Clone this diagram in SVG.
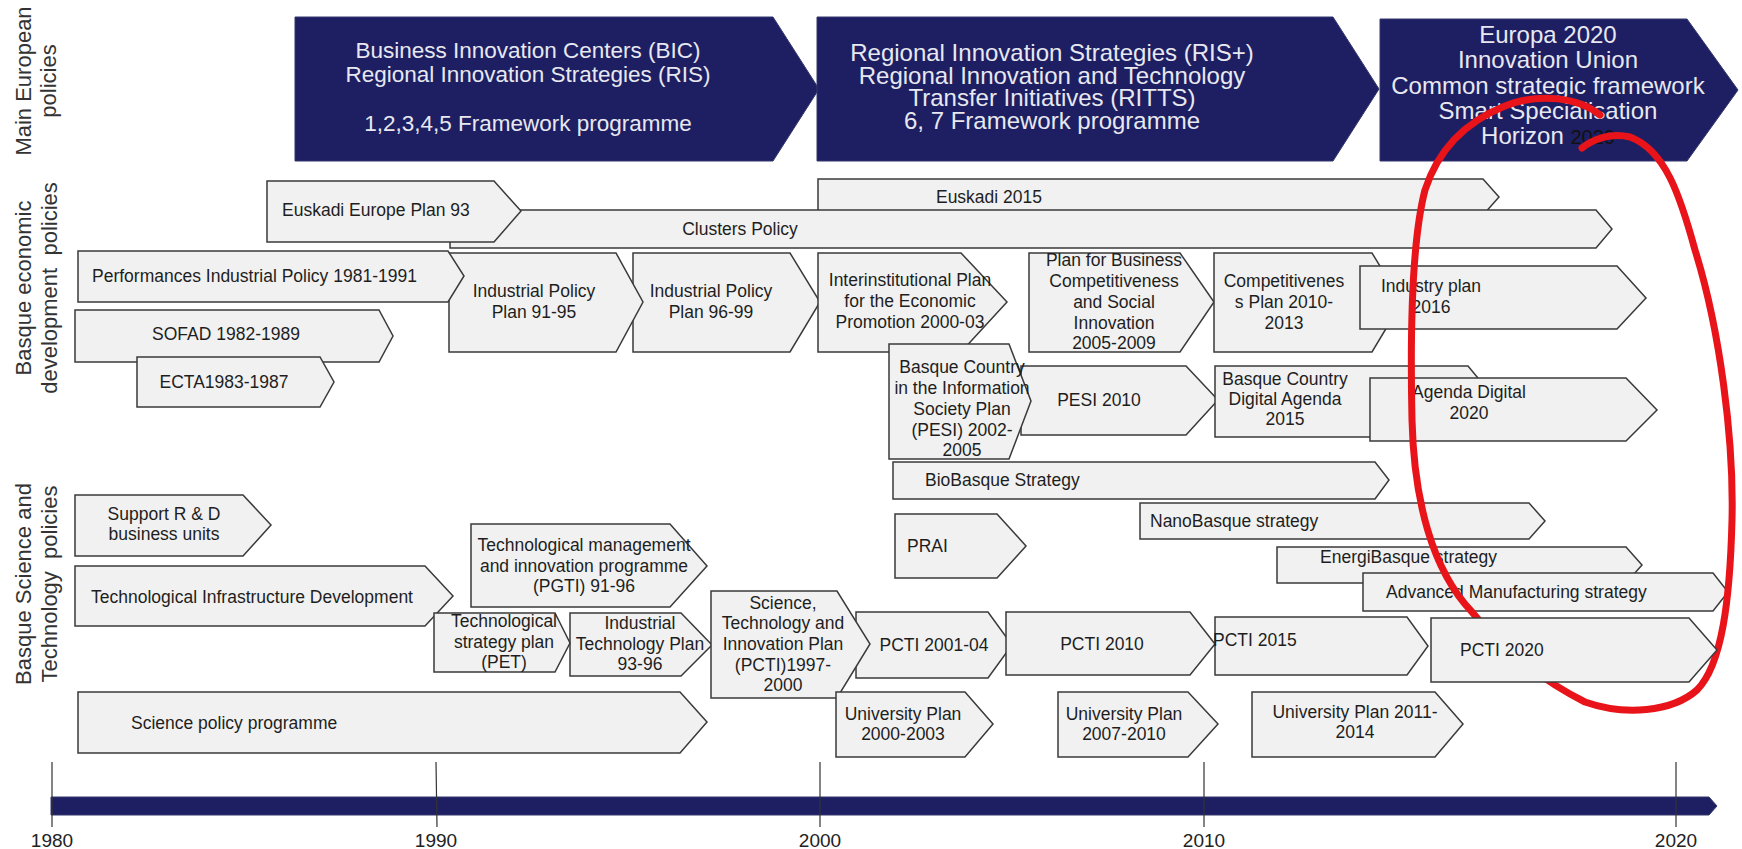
<svg xmlns="http://www.w3.org/2000/svg" width="1742" height="849" viewBox="0 0 1742 849">
<style>
.bg{fill:#ffffff}
.nav{fill:#1d1f62;stroke:#34376e;stroke-width:1}
.box{fill:#f1f1f1;stroke:#3a3a3a;stroke-width:1.5}
.t{font-family:'Liberation Sans',Arial,sans-serif;font-size:17.5px;fill:#1e1e1e}
.c{text-anchor:middle}
.w{font-family:'Liberation Sans',Arial,sans-serif;font-size:24px;fill:#e8e8f0;text-anchor:middle}
.w1{font-size:22.5px}
.side{font-family:'Liberation Sans',Arial,sans-serif;font-size:22px;fill:#333333;text-anchor:middle}
.yr{font-family:'Liberation Sans',Arial,sans-serif;font-size:19px;fill:#222222;text-anchor:middle}
.tick{stroke:#333333;stroke-width:1.2}
.red{fill:none;stroke:#e8141a;stroke-width:7;stroke-linecap:round;stroke-linejoin:round}
</style>
<rect class="bg" x="0" y="0" width="1742" height="849"/>

<g id="labels">
<text class="side" transform="translate(31,81) rotate(-90)">Main European</text>
<text class="side" transform="translate(56,81) rotate(-90)">policies</text>
<text class="side" transform="translate(31,288) rotate(-90)">Basque  economic</text>
<text class="side" transform="translate(57,288) rotate(-90)">development&#160; policies</text>
<text class="side" transform="translate(31,584) rotate(-90)">Basque  Science and</text>
<text class="side" transform="translate(57,584) rotate(-90)">Technology&#160; policies</text>
</g>

<g id="eu1"><path class="nav" d="M295,17 H773 L819,89 L773,161 H295 Z"/>
<text class="w w1" x="528" y="58">Business Innovation Centers (BIC)</text>
<text class="w w1" x="528" y="82">Regional Innovation Strategies (RIS)</text>
<text class="w w1" x="528" y="131">1,2,3,4,5  Framework programme</text></g>

<g id="eu2"><path class="nav" d="M817,17 H1333 L1379,89 L1333,161 H817 Z"/>
<text class="w" x="1052" y="61">Regional Innovation Strategies (RIS+)</text>
<text class="w" x="1052" y="84">Regional Innovation and Technology</text>
<text class="w" x="1052" y="106">Transfer Initiatives (RITTS)</text>
<text class="w" x="1052" y="129">6, 7 Framework programme</text></g>

<g id="eu3"><path class="nav" d="M1380,19 H1687 L1738,90 L1687,161 H1380 Z"/>
<text class="w" x="1548" y="43">Europa 2020</text>
<text class="w" x="1548" y="68">Innovation Union</text>
<text class="w" x="1548" y="94">Common strategic framework</text>
<text class="w" x="1548" y="119">Smart Specialisation</text>
<text class="w" x="1548" y="144">Horizon <tspan fill="#111111" font-size="20px">2020</tspan></text></g>

<!-- Basque economic development policies -->
<g id="euskadi2015"><path class="box" d="M818,179 H1483 L1499,197 L1483,215 H818 Z"/>
<text class="t c" x="989" y="203">Euskadi 2015</text></g>
<g id="clusters"><path class="box" d="M450,210 H1596 L1612,229 L1596,248 H450 Z"/>
<text class="t c" x="740" y="235">Clusters Policy</text></g>
<g id="euskadieurope"><path class="box" d="M267,181 H494 L521,211 L494,242 H267 Z"/>
<text class="t" x="282" y="216">Euskadi Europe Plan 93</text></g>

<g id="ipp9699"><path class="box" d="M633,253 H790 L820,302 L790,352 H633 Z"/>
<text class="t c" x="711" y="297">Industrial Policy</text>
<text class="t c" x="711" y="318">Plan 96-99</text></g>
<g id="ipp9195"><path class="box" d="M449,253 H616 L643,302 L616,352 H449 Z"/>
<text class="t c" x="534" y="297">Industrial Policy</text>
<text class="t c" x="534" y="318">Plan 91-95</text></g>
<g id="performances"><path class="box" d="M78,251 H448 L464,276 L448,302 H78 Z"/>
<text class="t" x="92" y="282">Performances Industrial Policy 1981-1991</text></g>

<g id="interinst"><path class="box" d="M818,253 H961 L1007,302 L961,352 H818 Z"/>
<text class="t c" x="910" y="286">Interinstitutional Plan</text>
<text class="t c" x="910" y="307">for the Economic</text>
<text class="t c" x="910" y="328">Promotion 2000-03</text></g>
<g id="planbusiness"><path class="box" d="M1029,253 H1180 L1214,302 L1180,352 H1029 Z"/>
<text class="t c" x="1114" y="266">Plan for Business</text>
<text class="t c" x="1114" y="287">Competitiveness</text>
<text class="t c" x="1114" y="308">and Social</text>
<text class="t c" x="1114" y="329">Innovation</text>
<text class="t c" x="1114" y="349">2005-2009</text></g>
<g id="competitiveness"><path class="box" d="M1214,253 H1372 L1402,302 L1372,352 H1214 Z"/>
<text class="t c" x="1284" y="287">Competitivenes</text>
<text class="t c" x="1284" y="308">s Plan 2010-</text>
<text class="t c" x="1284" y="329">2013</text></g>
<g id="industryplan"><path class="box" d="M1360,266 H1617 L1646,298 L1617,329 H1360 Z"/>
<text class="t c" x="1431" y="292">Industry plan</text>
<text class="t c" x="1431" y="313">2016</text></g>

<g id="sofad"><path class="box" d="M75,310 H379 L393,336 L379,362 H75 Z"/>
<text class="t c" x="226" y="340">SOFAD 1982-1989</text></g>
<g id="ecta"><path class="box" d="M137,357 H320 L334,382 L320,407 H137 Z"/>
<text class="t c" x="224" y="388">ECTA1983-1987</text></g>

<g id="pesi2010"><path class="box" d="M1021,366 H1186 L1218,400 L1186,435 H1021 Z"/>
<text class="t c" x="1099" y="406">PESI 2010</text></g>
<g id="pesi2002"><path class="box" d="M889,344 H1009 L1031,401 L1009,459 H889 Z"/>
<text class="t c" x="962" y="373">Basque Country</text>
<text class="t c" x="962" y="394">in the Information</text>
<text class="t c" x="962" y="415">Society Plan</text>
<text class="t c" x="962" y="436">(PESI) 2002-</text>
<text class="t c" x="962" y="456">2005</text></g>
<g id="digitalagenda2015"><path class="box" d="M1215,366 H1468 L1497,401 L1468,437 H1215 Z"/>
<text class="t c" x="1285" y="385">Basque Country</text>
<text class="t c" x="1285" y="405">Digital Agenda</text>
<text class="t c" x="1285" y="425">2015</text></g>
<g id="agendadigital2020"><path class="box" d="M1370,378 H1626 L1657,410 L1626,441 H1370 Z"/>
<text class="t c" x="1469" y="398">Agenda Digital</text>
<text class="t c" x="1469" y="419">2020</text></g>

<!-- Basque Science and Technology policies -->
<g id="biobasque"><path class="box" d="M893,462 H1375 L1389,480 L1375,499 H893 Z"/>
<text class="t" x="925" y="486">BioBasque Strategy</text></g>
<g id="nanobasque"><path class="box" d="M1140,503 H1529 L1545,521 L1529,539 H1140 Z"/>
<text class="t" x="1150" y="527">NanoBasque strategy</text></g>
<g id="prai"><path class="box" d="M895,514 H997 L1026,546 L997,578 H895 Z"/>
<text class="t" x="907" y="552">PRAI</text></g>
<g id="energibasque"><path class="box" d="M1277,547 H1626 L1642,565 L1626,583 H1277 Z"/>
<text class="t" x="1320" y="563">EnergiBasque strategy</text></g>
<g id="advmanufacturing"><path class="box" d="M1363,573 H1713 L1728,592 L1713,611 H1363 Z"/>
<text class="t" x="1386" y="598">Advanced Manufacturing strategy</text></g>

<g id="supportrd"><path class="box" d="M75,495 H243 L271,525 L243,556 H75 Z"/>
<text class="t c" x="164" y="520">Support R &amp; D</text>
<text class="t c" x="164" y="540">business units</text></g>
<g id="techinfra"><path class="box" d="M75,566 H425 L453,596 L425,626 H75 Z"/>
<text class="t" x="91" y="603">Technological Infrastructure Development</text></g>
<g id="pgti"><path class="box" d="M471,524 H670 L707,566 L670,607 H471 Z"/>
<text class="t c" x="584" y="551">Technological management</text>
<text class="t c" x="584" y="572">and innovation programme</text>
<text class="t c" x="584" y="592">(PGTI) 91-96</text></g>
<g id="itp9396"><path class="box" d="M570,613 H681 L712,645 L681,676 H570 Z"/>
<text class="t c" x="640" y="629">Industrial</text>
<text class="t c" x="640" y="650">Technology Plan</text>
<text class="t c" x="640" y="670">93-96</text></g>
<g id="pet"><path class="box" d="M434,613 H555 L570,643 L555,672 H434 Z"/>
<text class="t c" x="504" y="627">Technological</text>
<text class="t c" x="504" y="648">strategy plan</text>
<text class="t c" x="504" y="668">(PET)</text></g>
<g id="pcti0104"><path class="box" d="M856,612 H988 L1012,645 L988,678 H856 Z"/>
<text class="t c" x="934" y="651">PCTI 2001-04</text></g>
<g id="pcti9700"><path class="box" d="M711,591 H837 L870,644 L837,698 H711 Z"/>
<text class="t c" x="783" y="609">Science,</text>
<text class="t c" x="783" y="629">Technology and</text>
<text class="t c" x="783" y="650">Innovation Plan</text>
<text class="t c" x="783" y="671">(PCTI)1997-</text>
<text class="t c" x="783" y="691">2000</text></g>
<g id="pcti2010"><path class="box" d="M1006,612 H1190 L1215,644 L1190,675 H1006 Z"/>
<text class="t c" x="1102" y="650">PCTI 2010</text></g>
<g id="pcti2015"><path class="box" d="M1215,617 H1407 L1428,646 L1407,675 H1215 Z"/>
<text class="t" x="1213" y="646">PCTI 2015</text></g>

<g id="sciencepolicy"><path class="box" d="M78,692 H680 L707,722 L680,753 H78 Z"/>
<text class="t" x="131" y="729">Science policy programme</text></g>
<g id="univ0003"><path class="box" d="M836,692 H965 L993,724 L965,757 H836 Z"/>
<text class="t c" x="903" y="720">University Plan</text>
<text class="t c" x="903" y="740">2000-2003</text></g>
<g id="univ0710"><path class="box" d="M1058,692 H1188 L1218,724 L1188,757 H1058 Z"/>
<text class="t c" x="1124" y="720">University Plan</text>
<text class="t c" x="1124" y="740">2007-2010</text></g>
<g id="univ1114"><path class="box" d="M1252,692 H1435 L1463,724 L1435,757 H1252 Z"/>
<text class="t c" x="1355" y="718">University Plan 2011-</text>
<text class="t c" x="1355" y="738">2014</text></g>

<g id="connectors">
<path id="highlight" class="red" d="M1600,115 C1580,98 1540,92 1505,106 C1465,122 1438,150 1425,190 C1412,240 1410,330 1412,420 C1414,500 1432,570 1472,612 C1502,650 1545,682 1585,702 C1625,716 1672,712 1697,690 C1722,665 1730,600 1732,520 C1734,440 1720,330 1695,250 C1680,195 1665,150 1630,137 C1610,132 1592,140 1582,148"/>
</g>

<g id="pcti2020"><path class="box" d="M1431,618 H1689 L1717,650 L1689,682 H1431 Z"/>
<text class="t" x="1460" y="656">PCTI 2020</text></g>

<g id="timeline">
<path class="nav" d="M51,797 H1709 L1717,806 L1709,815 H51 Z"/>
<line class="tick" x1="52" y1="762" x2="52" y2="827"/>
<line class="tick" x1="436" y1="762" x2="437" y2="827"/>
<line class="tick" x1="820" y1="762" x2="820" y2="827"/>
<line class="tick" x1="1204" y1="762" x2="1204" y2="827"/>
<line class="tick" x1="1676" y1="762" x2="1676" y2="827"/>
<text class="yr" x="52" y="847">1980</text>
<text class="yr" x="436" y="847">1990</text>
<text class="yr" x="820" y="847">2000</text>
<text class="yr" x="1204" y="847">2010</text>
<text class="yr" x="1676" y="847">2020</text>
</g>
</svg>
